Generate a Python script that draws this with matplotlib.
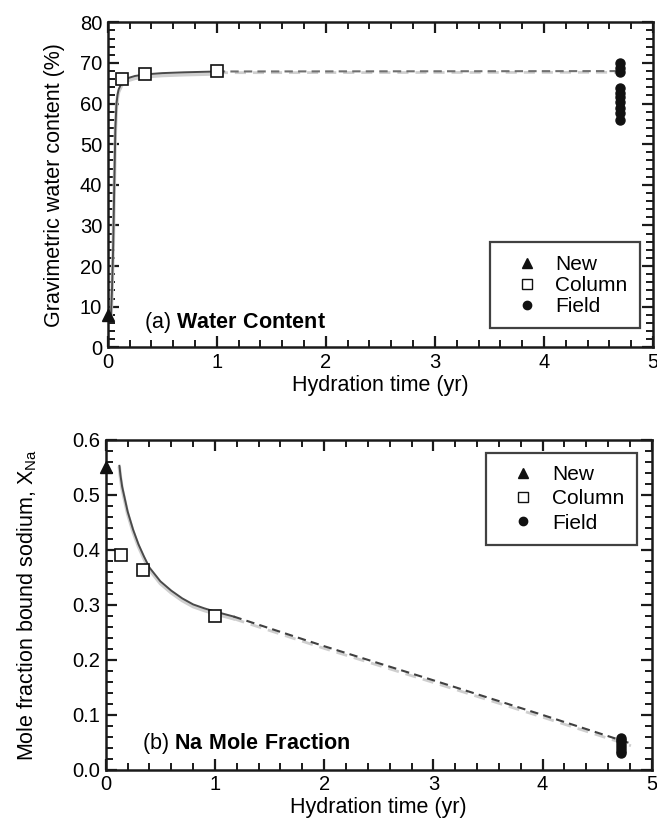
import matplotlib
matplotlib.use("Agg")
import matplotlib.pyplot as plt
from matplotlib.ticker import MultipleLocator, FormatStrFormatter
from matplotlib.lines import Line2D

plt.rcParams['font.family'] = ['Liberation Sans', 'DejaVu Sans']
plt.rcParams['mathtext.fontset'] = 'custom'
plt.rcParams['mathtext.rm'] = 'Liberation Sans'
plt.rcParams['mathtext.bf'] = 'Liberation Sans:bold'
plt.rcParams['mathtext.default'] = 'regular'

# ---------------- Panel (a) Water content ----------------
new_t_a = [0.0]
new_w = [8.0]
col_t_a = [0.13, 0.34, 1.0]
col_w = [66.0, 67.3, 68.0]
field_t_a = [4.70] * 10
field_w = [70.0, 68.8, 67.8, 63.8, 62.7, 61.5, 60.3, 59.0, 57.8, 56.0]
fit_t_a = [0.03, 0.04, 0.05, 0.06, 0.07, 0.08, 0.09, 0.10, 0.13, 0.16, 0.20, 0.25, 0.35, 0.50, 0.70, 1.0]
fit_w = [8.0, 15.0, 25.0, 40.0, 54.0, 60.0, 62.2, 63.5, 65.2, 65.9, 66.4, 66.8, 67.2, 67.5, 67.7, 67.9]
ext_t_a = [1.0, 4.70]
ext_w = [67.9, 68.0]

# ---------------- Panel (b) Na mole fraction ----------------
new_t_b = [0.0]
new_x = [0.55]
col_t_b = [0.135, 0.34, 1.0]
col_x = [0.390, 0.364, 0.279]
field_t_b = [4.72] * 7
field_x = [0.058, 0.054, 0.050, 0.046, 0.040, 0.035, 0.031]
fit_t_b = [0.125, 0.135, 0.15, 0.17, 0.20, 0.25, 0.30, 0.35, 0.40, 0.50, 0.60, 0.70, 0.80, 0.90, 1.0, 1.17]
fit_x = [0.553, 0.535, 0.515, 0.497, 0.470, 0.437, 0.410, 0.388, 0.368, 0.343, 0.326, 0.312,
         0.301, 0.294, 0.288, 0.279]
ext_t_b = [1.17, 2.0, 3.0, 4.0, 4.81]
ext_x = [0.279, 0.225, 0.163, 0.100, 0.048]

xticks = [0, 1, 2, 3, 4, 5]

fig = plt.figure(figsize=(6.57, 8.27), dpi=100)
ax1 = fig.add_axes([0.164, 0.580, 0.830, 0.393])
ax2 = fig.add_axes([0.161, 0.069, 0.831, 0.399])

dark = '#4a4a4a'
light = '#cfcfcf'
TFS = 14.5
LFS = 15.5


def style(ax):
    for s in ax.spines.values():
        s.set_linewidth(1.8)
        s.set_color('#1a1a1a')
    ax.tick_params(which='both', direction='in', top=True, right=True,
                   labelsize=TFS, color='#1a1a1a')
    ax.tick_params(which='major', length=8, width=1.6, pad=4)
    ax.tick_params(which='minor', length=5, width=1.4)
    ax.set_xlim(0, 5)
    ax.set_xticks(xticks)
    ax.xaxis.set_minor_locator(MultipleLocator(0.2))
    ax.set_xlabel('Hydration time (yr)', fontsize=LFS, labelpad=2)


def legend(ax, loc, anchor, spacing):
    handles = [
        Line2D([], [], ls='none', marker='^', ms=7, mfc='#111111', mec='#111111'),
        Line2D([], [], ls='none', marker='s', ms=7, mfc='white', mec='#111111', mew=1.0),
        Line2D([], [], ls='none', marker='o', ms=6, mfc='#111111', mec='#111111'),
    ]
    leg = ax.legend(handles, ['New', 'Column', 'Field'], loc=loc, bbox_to_anchor=anchor,
                    fontsize=15, frameon=True, fancybox=False, edgecolor='#111111',
                    handlelength=2.35, handletextpad=0.2, borderpad=0.6,
                    labelspacing=spacing, borderaxespad=0)
    leg.get_frame().set_linewidth(1.6)


# Panel a
style(ax1)
ax1.set_ylim(0, 80)
ax1.yaxis.set_major_locator(MultipleLocator(10))
ax1.yaxis.set_minor_locator(MultipleLocator(2))
ax1.set_ylabel('Gravimetric water content (%)', fontsize=LFS, labelpad=11)
ax1.plot(fit_t_a, [w - 0.6 for w in fit_w], color=light, lw=2.5, zorder=2)
ax1.plot(fit_t_a, fit_w, color=dark, lw=1.4, zorder=3)
ax1.plot(ext_t_a, [w - 0.3 for w in ext_w], color=light, lw=2.0, ls=(0, (4, 2.5)), zorder=2)
ax1.plot(ext_t_a, ext_w, color='#707070', lw=1.5, ls=(0, (4, 2.5)), zorder=3)
ax1.plot(col_t_a, col_w, ls='none', marker='s', ms=9, mfc='white', mec='#111111', mew=1.2, zorder=5)
ax1.plot(field_t_a, field_w, ls='none', marker='o', ms=6.5, mfc='#111111', mec='#111111', zorder=5)
ax1.plot(new_t_a, new_w, ls='none', marker='^', ms=8, mfc='#111111', mec='#111111', zorder=6, clip_on=False)
ax1.text(0.066, 0.077, r'(a) $\mathbf{Water\ Content}$', transform=ax1.transAxes, fontsize=LFS,
         va='center', ha='left')
legend(ax1, 'lower right', (0.976, 0.058), 0.1)

# Panel b
style(ax2)
ax2.set_ylim(0, 0.6)
ax2.yaxis.set_major_locator(MultipleLocator(0.1))
ax2.yaxis.set_minor_locator(MultipleLocator(0.02))
ax2.yaxis.set_major_formatter(FormatStrFormatter('%.1f'))
ax2.set_ylabel(r'Mole fraction bound sodium, X$_{Na}$', fontsize=LFS, labelpad=24)
ax2.plot(fit_t_b, [x - 0.004 for x in fit_x], color=light, lw=2.5, zorder=2)
ax2.plot(fit_t_b, fit_x, color=dark, lw=1.4, zorder=3)
ax2.plot(ext_t_b, [x - 0.004 for x in ext_x], color=light, lw=2.0, ls=(0, (4, 2.5)), zorder=2)
ax2.plot(ext_t_b, ext_x, color='#404040', lw=1.5, ls=(0, (4, 2.5)), zorder=3)
ax2.plot(col_t_b, col_x, ls='none', marker='s', ms=9, mfc='white', mec='#111111', mew=1.2, zorder=5)
ax2.plot(field_t_b, field_x, ls='none', marker='o', ms=6.5, mfc='#111111', mec='#111111', zorder=5)
ax2.plot(new_t_b, new_x, ls='none', marker='^', ms=8, mfc='#111111', mec='#111111', zorder=6, clip_on=False)
ax2.text(0.067, 0.081, r'(b) $\mathbf{Na\ Mole\ Fraction}$', transform=ax2.transAxes, fontsize=LFS,
         va='center', ha='left')
legend(ax2, 'upper right', (0.9725, 0.9615), 0.25)

fig.savefig('out.png', dpi=100)
